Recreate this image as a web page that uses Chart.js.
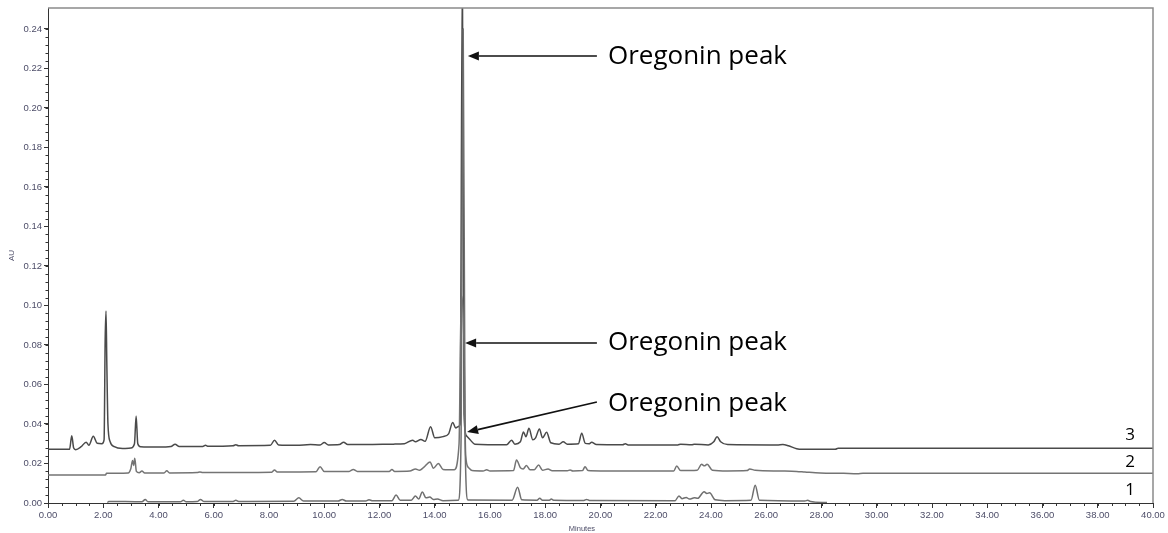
<!DOCTYPE html>
<html>
<head>
<meta charset="utf-8">
<script src="https://cdn.jsdelivr.net/npm/chart.js@4.4.1/dist/chart.umd.min.js"></script>
<style>
  html, body { margin: 0; padding: 0; background: #fff; }
  #wrap { width: 1168px; height: 533px; }
</style>
</head>
<body>
<div id="wrap"><canvas id="chromChart" width="1168" height="533"></canvas></div>
<script>
// retention times (min) and absorbance (AU) for the three runs
const run3Time = [0, 0.78, 0.86, 0.93, 1.0, 1.2, 1.38, 1.48, 1.64, 1.78, 1.95, 2.03, 2.07, 2.10, 2.13, 2.17, 2.25, 2.4, 2.7, 3.0,
  3.13, 3.19, 3.25, 3.35, 4.0, 4.45, 4.6, 4.75, 5.6, 5.7, 5.8, 6.7, 6.8, 6.9, 8.05, 8.2, 8.35, 9.0, 9.5, 9.85,
  10.0, 10.15, 10.55, 10.7, 10.85, 11.5, 12.5, 12.9, 13.2, 13.3, 13.5, 13.65, 13.85, 14.0, 14.3, 14.5, 14.65, 14.76, 14.84, 14.92,
  15.0, 15.06, 15.15, 15.28, 15.45, 16.6, 16.78, 16.9, 17.1, 17.21, 17.3, 17.41, 17.55, 17.65, 17.79, 17.9, 18.05, 18.2, 18.5, 18.65,
  18.8, 19.2, 19.32, 19.45, 19.58, 19.68, 19.85, 20.8, 20.9, 21.0, 22.8, 22.9, 23.3, 23.4, 23.9, 24.1, 24.22, 24.35, 24.6, 26.4,
  26.6, 26.8, 27.1, 27.3, 28.5, 28.6, 40];
const run3AU = [0.0272, 0.0272, 0.0340, 0.0278, 0.0270, 0.0285, 0.0308, 0.0292, 0.0338, 0.0302, 0.0300, 0.0320, 0.0830, 0.0972, 0.0700, 0.0400, 0.0310, 0.0285, 0.0276, 0.0278,
  0.0300, 0.0440, 0.0300, 0.0285, 0.0283, 0.0286, 0.0298, 0.0286, 0.0286, 0.0292, 0.0287, 0.0290, 0.0295, 0.0290, 0.0292, 0.0318, 0.0294, 0.0292, 0.0296, 0.0294,
  0.0306, 0.0294, 0.0296, 0.0308, 0.0296, 0.0296, 0.0298, 0.0300, 0.0318, 0.0310, 0.0322, 0.0312, 0.0386, 0.0330, 0.0336, 0.0350, 0.0408, 0.0380, 0.0386, 0.0400,
  0.2700, 0.0450, 0.0340, 0.0320, 0.0298, 0.0295, 0.0318, 0.0298, 0.0310, 0.0360, 0.0335, 0.0378, 0.0320, 0.0330, 0.0375, 0.0330, 0.0358, 0.0305, 0.0298, 0.0310,
  0.0298, 0.0300, 0.0353, 0.0302, 0.0300, 0.0307, 0.0296, 0.0295, 0.0300, 0.0294, 0.0294, 0.0298, 0.0295, 0.0298, 0.0294, 0.0310, 0.0336, 0.0310, 0.0296, 0.0294,
  0.0296, 0.0290, 0.0275, 0.0272, 0.0272, 0.0277, 0.0277];

const run2Time = [0, 2.08, 2.12, 2.9, 3.0, 3.06, 3.10, 3.14, 3.2, 3.3, 3.4, 3.5, 4.2, 4.3, 4.4, 5.4, 5.5, 5.6, 8.1, 8.2,
  8.3, 9.7, 9.85, 10.0, 10.9, 11.05, 11.2, 12.35, 12.45, 12.55, 13.1, 13.3, 13.45, 13.6, 13.83, 13.95, 14.13, 14.3, 14.7, 14.88,
  14.96, 15.05, 15.12, 15.22, 15.35, 15.75, 15.88, 16.0, 16.85, 16.96, 17.1, 17.2, 17.32, 17.45, 17.6, 17.76, 17.9, 18.1, 18.25, 18.8,
  18.9, 19.0, 19.35, 19.44, 19.55, 20.0, 22.65, 22.76, 22.9, 23.5, 23.66, 23.76, 23.86, 24.05, 24.6, 25.3, 25.4, 25.6, 26.5, 27.1,
  27.4, 27.95, 28.8, 29.3, 29.5, 40];
const run2AU = [0.0142, 0.0142, 0.0150, 0.0152, 0.0175, 0.0215, 0.0190, 0.0226, 0.0160, 0.0153, 0.0162, 0.0152, 0.0152, 0.0163, 0.0152, 0.0154, 0.0157, 0.0154, 0.0156, 0.0167,
  0.0157, 0.0158, 0.0184, 0.0160, 0.0160, 0.0170, 0.0160, 0.0160, 0.0170, 0.0160, 0.0162, 0.0172, 0.0166, 0.0180, 0.0208, 0.0176, 0.0200, 0.0170, 0.0168, 0.0300,
  0.1050, 0.0850, 0.0240, 0.0180, 0.0164, 0.0162, 0.0168, 0.0162, 0.0164, 0.0218, 0.0178, 0.0172, 0.0190, 0.0168, 0.0168, 0.0192, 0.0166, 0.0172, 0.0163, 0.0163,
  0.0167, 0.0162, 0.0164, 0.0184, 0.0164, 0.0162, 0.0162, 0.0187, 0.0164, 0.0166, 0.0196, 0.0188, 0.0196, 0.0166, 0.0162, 0.0164, 0.0172, 0.0166, 0.0162, 0.0160,
  0.0157, 0.0152, 0.0150, 0.0148, 0.0151, 0.0151];

const run1Time = [2.15, 2.2, 3.4, 3.52, 3.62, 4.8, 4.9, 5.0, 5.4, 5.52, 5.65, 6.7, 6.8, 6.9, 8.9, 9.08, 9.25, 10.5, 10.65, 10.8,
  11.5, 11.62, 11.75, 12.45, 12.6, 12.75, 13.15, 13.3, 13.42, 13.55, 13.68, 13.82, 13.95, 14.1, 14.3, 14.85, 14.95, 15.03, 15.1, 15.2,
  16.8, 17.0, 17.15, 17.7, 17.8, 17.9, 18.15, 18.22, 18.3, 19.4, 19.5, 19.6, 22.7, 22.84, 22.95, 23.1, 23.22, 23.4, 23.52, 23.75,
  23.85, 23.95, 24.15, 24.5, 25.45, 25.6, 25.75, 27.4, 27.5, 27.6, 28.2];
const run1AU = [0.0002, 0.0008, 0.0006, 0.0018, 0.0006, 0.0006, 0.0014, 0.0006, 0.0007, 0.0018, 0.0007, 0.0008, 0.0014, 0.0008, 0.0009, 0.0026, 0.0010, 0.0010, 0.0018, 0.0010,
  0.0010, 0.0017, 0.0011, 0.0012, 0.0040, 0.0014, 0.0014, 0.0035, 0.0020, 0.0056, 0.0026, 0.0030, 0.0018, 0.0020, 0.0012, 0.0014, 0.0300, 0.2400, 0.0300, 0.0015,
  0.0014, 0.0080, 0.0016, 0.0014, 0.0024, 0.0014, 0.0014, 0.0020, 0.0014, 0.0013, 0.0018, 0.0013, 0.0012, 0.0036, 0.0022, 0.0028, 0.0020, 0.0026, 0.0024, 0.0057,
  0.0048, 0.0052, 0.0016, 0.0012, 0.0014, 0.0090, 0.0014, 0.0010, 0.0014, 0.0008, 0.0002];

// axis settings
const timeMin = 0, timeMax = 40, timeStep = 2, timeMinor = 0.5;
const auMin = 0, auMax = 0.2506, auStep = 0.02, auMinor = 0.004;

// arrows with their caption, in minutes / AU
const peakNotes = [
  { text: 'Oregonin peak', tail: [19.87, 0.2263], tip: [15.20, 0.2263], at: [20.27, 0.2258] },
  { text: 'Oregonin peak', tail: [19.87, 0.0810], tip: [15.10, 0.0810], at: [20.27, 0.0810] },
  { text: 'Oregonin peak', tail: [19.87, 0.0511], tip: [15.17, 0.0359], at: [20.27, 0.0501] }
];
const runLabels = [
  { text: '3', at: [39.17, 0.0344] },
  { text: '2', at: [39.17, 0.0208] },
  { text: '1', at: [39.17, 0.0066] }
];

const toPoints = (xs, ys) => xs.map((x, i) => ({ x: x, y: ys[i] }));

const tickFont = { family: 'Liberation Sans', size: 9.5 };
const labelColor = '#4d4d68';

// frame, minor ticks, arrows and captions
const decorations = {
  id: 'decorations',
  afterDraw(chart) {
    const { ctx, chartArea: area, scales: { x, y } } = chart;
    ctx.save();

    // top/right frame
    ctx.strokeStyle = '#8a8a8a';
    ctx.lineWidth = 1.5;
    ctx.beginPath();
    ctx.moveTo(area.left, area.top);
    ctx.lineTo(area.right, area.top);
    ctx.lineTo(area.right, area.bottom);
    ctx.stroke();

    // minor ticks
    ctx.strokeStyle = '#333';
    ctx.lineWidth = 1;
    ctx.beginPath();
    for (let v = timeMin; v <= timeMax + 1e-9; v += timeMinor) {
      const px = Math.round(x.getPixelForValue(v)) + 0.5;
      ctx.moveTo(px, area.bottom);
      ctx.lineTo(px, area.bottom + 3);
    }
    for (let v = auMin; v <= 0.24 + 1e-9; v += auMinor) {
      const py = Math.round(y.getPixelForValue(v)) + 0.5;
      ctx.moveTo(area.left, py);
      ctx.lineTo(area.left - 2.5, py);
    }
    ctx.stroke();

    // arrows
    ctx.strokeStyle = '#111';
    ctx.fillStyle = '#111';
    ctx.lineWidth = 1.6;
    peakNotes.forEach(n => {
      const x0 = x.getPixelForValue(n.tail[0]), y0 = y.getPixelForValue(n.tail[1]);
      const x1 = x.getPixelForValue(n.tip[0]), y1 = y.getPixelForValue(n.tip[1]);
      const ang = Math.atan2(y1 - y0, x1 - x0);
      const head = 11, half = 4.5;
      const bx = x1 - head * Math.cos(ang), by = y1 - head * Math.sin(ang);
      ctx.beginPath();
      ctx.moveTo(x0, y0);
      ctx.lineTo(bx, by);
      ctx.stroke();
      ctx.beginPath();
      ctx.moveTo(x1, y1);
      ctx.lineTo(bx + half * Math.sin(ang), by - half * Math.cos(ang));
      ctx.lineTo(bx - half * Math.sin(ang), by + half * Math.cos(ang));
      ctx.closePath();
      ctx.fill();
    });

    // captions
    ctx.fillStyle = '#000';
    ctx.textBaseline = 'middle';
    ctx.textAlign = 'left';
    ctx.font = '26px "Open Sans"';
    peakNotes.forEach(n => {
      ctx.fillText(n.text, x.getPixelForValue(n.at[0]), y.getPixelForValue(n.at[1]));
    });
    ctx.textAlign = 'center';
    ctx.font = '17px "Open Sans"';
    runLabels.forEach(l => {
      ctx.fillText(l.text, x.getPixelForValue(l.at[0]), y.getPixelForValue(l.at[1]));
    });

    // x axis caption
    ctx.fillStyle = labelColor;
    ctx.font = '7.5px "Liberation Sans"';
    ctx.fillText('Minutes', x.getPixelForValue(19.33), area.bottom + 26);
    ctx.restore();
  }
};

new Chart(document.getElementById('chromChart'), {
  type: 'line',
  data: {
    datasets: [
      { label: '1', data: toPoints(run1Time, run1AU), borderColor: '#6f6f6f', borderWidth: 1.5 },
      { label: '2', data: toPoints(run2Time, run2AU), borderColor: '#747474', borderWidth: 1.5 },
      { label: '3', data: toPoints(run3Time, run3AU), borderColor: '#4a4a4a', borderWidth: 1.5 }
    ]
  },
  options: {
    responsive: false,
    animation: false,
    parsing: true,
    elements: { point: { radius: 0 }, line: { cubicInterpolationMode: 'monotone' } },
    layout: { padding: { top: 8, right: 15, left: 0, bottom: 0 } },
    plugins: { legend: { display: false }, tooltip: { enabled: false } },
    scales: {
      x: {
        type: 'linear',
        min: timeMin,
        max: timeMax,
        afterFit: s => { s.height = 30; },
        border: { color: '#333', width: 1 },
        grid: { drawOnChartArea: false, tickLength: 5, color: '#333' },
        ticks: {
          stepSize: timeStep,
          maxRotation: 0,
          autoSkip: false,
          padding: 2,
          color: labelColor,
          font: tickFont,
          callback: v => v.toFixed(2)
        }
      },
      y: {
        type: 'linear',
        min: auMin,
        max: auMax,
        afterFit: s => { s.width = 48; },
        border: { color: '#333', width: 1 },
        grid: { drawOnChartArea: false, tickLength: 4, color: '#333' },
        title: { display: true, text: 'AU', color: labelColor, font: { family: 'Liberation Sans', size: 8 }, padding: { top: 7, bottom: 0 } },
        ticks: {
          stepSize: auStep,
          includeBounds: false,
          padding: 2,
          color: labelColor,
          font: tickFont,
          callback: v => v.toFixed(2)
        }
      }
    }
  },
  plugins: [decorations]
});
</script>
</body>
</html>
